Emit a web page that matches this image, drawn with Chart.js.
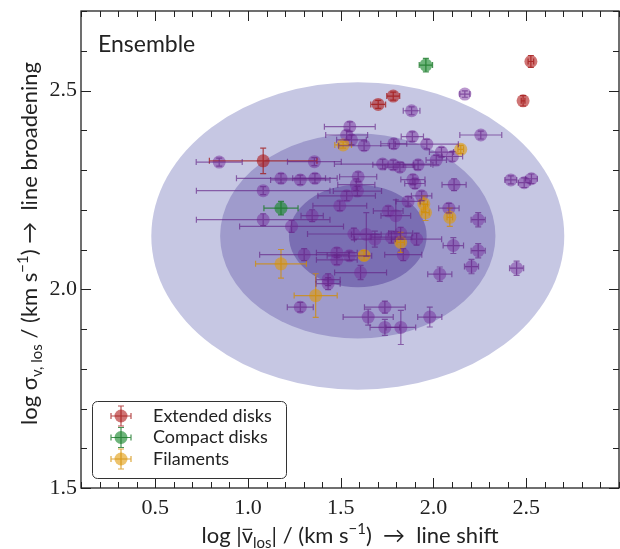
<!DOCTYPE html>
<html>
<head>
<meta charset="utf-8">
<script src="https://cdn.jsdelivr.net/npm/chart.js@4.4.1/dist/chart.umd.min.js"></script>
<style>
  html, body { margin: 0; padding: 0; background: #fff; }
  canvas { display: block; }
</style>
</head>
<body>
<canvas id="chart" width="620" height="549"></canvas>
<script>
// each entry: [log|v_los|, log sigma, xerr, yerr]
const ensemble = [
  [0.845, 2.320, 0.124, 0.010], [1.358, 2.321, 0.145, 0.010], [1.178, 2.279, 0.24, 0.012],
  [1.282, 2.275, 0.16, 0.012], [1.361, 2.279, 0.12, 0.012], [1.082, 2.248, 0.36, 0.010],
  [1.594, 2.283, 0.10, 0.012], [1.584, 2.263, 0.10, 0.015], [1.590, 2.247, 0.13, 0.012],
  [1.532, 2.235, 0.155, 0.012], [1.495, 2.210, 0.145, 0.012], [1.346, 2.185, 0.06, 0.015],
  [1.082, 2.175, 0.36, 0.015], [1.235, 2.158, 0.28, 0.015], [1.571, 2.139, 0.25, 0.015],
  [1.638, 2.138, 0.08, 0.055], [1.684, 2.126, 0.11, 0.02], [1.303, 2.087, 0.24, 0.015],
  [1.479, 2.092, 0.11, 0.012], [1.479, 2.074, 0.11, 0.012], [1.547, 2.084, 0.12, 0.012],
  [1.607, 2.042, 0.14, 0.018], [1.432, 2.024, 0.065, 0.015], [1.432, 2.014, 0.065, 0.015],
  [1.282, 1.955, 0.07, 0.012], [1.648, 1.930, 0.135, 0.02], [1.738, 1.955, 0.11, 0.015],
  [1.738, 1.904, 0.08, 0.02], [1.824, 1.904, 0.08, 0.043], [1.980, 1.930, 0.065, 0.025],
  [1.549, 2.409, 0.137, 0.012], [1.532, 2.388, 0.113, 0.012], [1.558, 2.376, 0.08, 0.012],
  [1.626, 2.361, 0.137, 0.012], [1.786, 2.366, 0.07, 0.012], [1.886, 2.384, 0.06, 0.012],
  [1.964, 2.365, 0.17, 0.012], [1.882, 2.449, 0.045, 0.010], [2.169, 2.491, 0.027, 0.008],
  [2.255, 2.388, 0.113, 0.010], [2.043, 2.345, 0.065, 0.012], [2.102, 2.334, 0.055, 0.012],
  [2.015, 2.325, 0.055, 0.012], [1.726, 2.315, 0.26, 0.012], [1.783, 2.313, 0.11, 0.012],
  [1.819, 2.307, 0.08, 0.012], [1.917, 2.313, 0.08, 0.012], [1.889, 2.276, 0.065, 0.012],
  [1.900, 2.266, 0.055, 0.012], [1.936, 2.235, 0.055, 0.012], [2.111, 2.263, 0.065, 0.015],
  [2.417, 2.275, 0.032, 0.010], [2.489, 2.268, 0.032, 0.012], [2.528, 2.278, 0.032, 0.012],
  [1.863, 2.221, 0.065, 0.012], [2.083, 2.204, 0.055, 0.012], [1.756, 2.197, 0.08, 0.012],
  [1.797, 2.185, 0.08, 0.04], [2.241, 2.175, 0.038, 0.018], [1.773, 2.131, 0.11, 0.015],
  [1.823, 2.141, 0.065, 0.015], [1.909, 2.126, 0.135, 0.015], [2.107, 2.110, 0.055, 0.02],
  [2.241, 2.097, 0.038, 0.018], [1.837, 2.087, 0.10, 0.015], [2.205, 2.057, 0.038, 0.018],
  [2.448, 2.053, 0.038, 0.018], [2.034, 2.038, 0.065, 0.018],
];
const extendedDisks = [
  [1.082, 2.323, 0.29, 0.032], [1.702, 2.465, 0.04, 0.010], [1.783, 2.486, 0.035, 0.010],
  [2.525, 2.573, 0.015, 0.015], [2.483, 2.474, 0.01, 0.013],
];
const compactDisks = [
  [1.959, 2.564, 0.036, 0.017], [1.178, 2.204, 0.092, 0.017],
];
const filaments = [
  [1.513, 2.363, 0.045, 0.008], [2.147, 2.352, 0.015, 0.010], [1.948, 2.215, 0.02, 0.02],
  [1.957, 2.193, 0.02, 0.02], [2.088, 2.181, 0.015, 0.023], [1.823, 2.118, 0.02, 0.025],
  [1.626, 2.085, 0.027, 0.012], [1.178, 2.064, 0.137, 0.036], [1.365, 1.984, 0.116, 0.055],
];

// ensemble distribution: centre and 1-sigma widths, drawn at 3, 2, 1 sigma
const ellipseCenter = [1.592, 2.134];
const ellipseSigma = [0.371, 0.129];
const ellipseLevels = [3, 2, 1];

const xTickLabels = [0.5, 1.0, 1.5, 2.0, 2.5];
const yTickLabels = [1.5, 2.0, 2.5];

const legendLabels = ['Extended disks', 'Compact disks', 'Filaments'];

const ELLIPSE_COLORS = ['#c6c7e3', '#9f9bcc', '#7a6eb3'];
const GROUPS = {
  ensemble: { fill: 'rgba(118,48,158,0.5)', bar: 'rgba(100,35,135,0.65)' },
  extended: { fill: 'rgba(175,25,25,0.6)', bar: 'rgba(160,20,20,0.75)' },
  compact: { fill: 'rgba(30,140,50,0.65)', bar: 'rgba(25,120,40,0.8)' },
  filaments: { fill: 'rgba(225,155,10,0.6)', bar: 'rgba(210,140,0,0.75)' },
};
const SANS = 'Lato, "Open Sans", sans-serif';
const SERIF = '"Liberation Serif", "DejaVu Serif", serif';

const makeSet = (rows, style, order) => ({
  data: rows.map((r) => ({ x: r[0], y: r[1] })),
  errors: rows.map((r) => [r[2], r[3]]),
  barColor: style.bar,
  backgroundColor: style.fill,
  borderWidth: 0,
  pointRadius: 6.5,
  order,
});

const hasLabel = (list, v) => list.some((t) => Math.abs(t - v) < 1e-6);

// filled sigma ellipses behind the points
const ellipsePlugin = {
  id: 'ellipses',
  beforeDatasetsDraw(chart) {
    const { ctx, chartArea: a, scales: { x, y } } = chart;
    const cx = x.getPixelForValue(ellipseCenter[0]);
    const cy = y.getPixelForValue(ellipseCenter[1]);
    ctx.save();
    ctx.beginPath();
    ctx.rect(a.left, a.top, a.right - a.left, a.bottom - a.top);
    ctx.clip();
    ellipseLevels.forEach((k, i) => {
      const rx = x.getPixelForValue(ellipseCenter[0] + k * ellipseSigma[0]) - cx;
      const ry = cy - y.getPixelForValue(ellipseCenter[1] + k * ellipseSigma[1]);
      ctx.fillStyle = ELLIPSE_COLORS[i];
      ctx.beginPath();
      ctx.ellipse(cx, cy, rx, ry, 0, 0, 2 * Math.PI);
      ctx.fill();
    });
    ctx.restore();
  },
};

const drawErrorCross = (ctx, px, x0, x1, py, y0, y1, color) => {
  const cap = 3;
  ctx.strokeStyle = color;
  ctx.lineWidth = 1.2;
  ctx.beginPath();
  ctx.moveTo(x0, py); ctx.lineTo(x1, py);
  ctx.moveTo(px, y0); ctx.lineTo(px, y1);
  ctx.moveTo(x0, py - cap); ctx.lineTo(x0, py + cap);
  ctx.moveTo(x1, py - cap); ctx.lineTo(x1, py + cap);
  ctx.moveTo(px - cap, y0); ctx.lineTo(px + cap, y0);
  ctx.moveTo(px - cap, y1); ctx.lineTo(px + cap, y1);
  ctx.stroke();
};

// error bars, drawn over the markers like matplotlib's errorbar
const errorBarPlugin = {
  id: 'errorBars',
  afterDatasetsDraw(chart) {
    const { ctx, scales: { x, y } } = chart;
    ctx.save();
    chart.data.datasets.forEach((ds) => {
      ds.data.forEach((p, i) => {
        const [xe, ye] = ds.errors[i];
        drawErrorCross(
          ctx,
          x.getPixelForValue(p.x), x.getPixelForValue(p.x - xe), x.getPixelForValue(p.x + xe),
          y.getPixelForValue(p.y), y.getPixelForValue(p.y - ye), y.getPixelForValue(p.y + ye),
          ds.barColor,
        );
      });
    });
    ctx.restore();
  },
};

// rich text helper for sub/superscripts and the overline on v
const drawRich = (ctx, parts, x, y, size) => {
  const fontFor = (k) => `${(k === 'sub' || k === 'sup') ? size * 0.68 : size}px ${SANS}`;
  const widths = parts.map(([t, k]) => { ctx.font = fontFor(k); return ctx.measureText(t).width; });
  let cx = x - widths.reduce((s, w) => s + w, 0) / 2;
  ctx.textAlign = 'left';
  ctx.textBaseline = 'alphabetic';
  parts.forEach(([t, k], i) => {
    ctx.font = fontFor(k);
    let dy = 0;
    if (k === 'sub') dy = size * 0.22;
    if (k === 'sup') dy = -size * 0.4;
    ctx.fillText(t, cx, y + dy);
    if (k === 'bar') {
      ctx.lineWidth = 1.2;
      ctx.beginPath();
      ctx.moveTo(cx + 1, y - size * 0.62);
      ctx.lineTo(cx + widths[i] - 1, y - size * 0.62);
      ctx.stroke();
    }
    cx += widths[i];
  });
};

const framePlugin = {
  id: 'frame',
  afterDraw(chart) {
    const { ctx, chartArea: a, scales: { x, y } } = chart;
    ctx.save();
    ctx.strokeStyle = '#222';
    ctx.fillStyle = '#222';

    // inward ticks on all four sides
    ctx.lineWidth = 1;
    ctx.beginPath();
    x.ticks.forEach((t) => {
      const px = Math.round(x.getPixelForValue(t.value)) + 0.5;
      const len = hasLabel(xTickLabels, t.value) ? 10 : 6;
      ctx.moveTo(px, a.bottom); ctx.lineTo(px, a.bottom - len);
      ctx.moveTo(px, a.top); ctx.lineTo(px, a.top + len);
    });
    y.ticks.forEach((t) => {
      const py = Math.round(y.getPixelForValue(t.value)) + 0.5;
      const len = hasLabel(yTickLabels, t.value) ? 10 : 6;
      ctx.moveTo(a.left, py); ctx.lineTo(a.left + len, py);
      ctx.moveTo(a.right, py); ctx.lineTo(a.right - len, py);
    });
    ctx.stroke();

    ctx.lineWidth = 1.3;
    ctx.strokeRect(a.left, a.top, a.right - a.left, a.bottom - a.top);

    // panel label
    ctx.font = `23px ${SANS}`;
    ctx.textAlign = 'left';
    ctx.textBaseline = 'alphabetic';
    ctx.fillText('Ensemble', a.left + 17, a.top + 41);

    // axis titles
    drawRich(ctx, [
      ['log |', ''], ['v', 'bar'], ['los', 'sub'], ['| / (km s', ''], ['\u22121', 'sup'],
      [')  \u2192  line shift', ''],
    ], (a.left + a.right) / 2, 543, 22);
    ctx.save();
    ctx.translate(37, (a.top + a.bottom) / 2 - 6);
    ctx.rotate(-Math.PI / 2);
    drawRich(ctx, [
      ['log \u03c3', ''], ['v, los', 'sub'], [' / (km s', ''], ['\u22121', 'sup'],
      [') \u2192  line broadening', ''],
    ], 0, 0, 22);
    ctx.restore();

    // legend
    const bx = a.left + 11; const by = 401; const bw = 194; const bh = 77;
    ctx.fillStyle = 'rgba(255,255,255,0.85)';
    ctx.strokeStyle = '#333';
    ctx.lineWidth = 1;
    ctx.beginPath();
    ctx.roundRect(bx + 0.5, by + 0.5, bw, bh, 5);
    ctx.fill();
    ctx.stroke();
    const styles = [GROUPS.extended, GROUPS.compact, GROUPS.filaments];
    legendLabels.forEach((label, i) => {
      const mx = bx + 29; const my = by + 15 + i * 21.5;
      ctx.fillStyle = styles[i].fill;
      ctx.beginPath();
      ctx.arc(mx, my, 6.5, 0, 2 * Math.PI);
      ctx.fill();
      drawErrorCross(ctx, mx, mx - 10, mx + 10, my, my - 10, my + 10, styles[i].bar);
      ctx.fillStyle = '#222';
      ctx.font = `18px ${SANS}`;
      ctx.textBaseline = 'middle';
      ctx.fillText(label, bx + 61, my);
    });
    ctx.restore();
  },
};

const tickCallback = (list) => (value) => {
  const v = Math.round(value * 10) / 10;
  return hasLabel(list, v) ? v.toFixed(1) : '';
};

new Chart(document.getElementById('chart'), {
  type: 'scatter',
  data: {
    datasets: [
      makeSet(extendedDisks, GROUPS.extended, 1),
      makeSet(compactDisks, GROUPS.compact, 1),
      makeSet(filaments, GROUPS.filaments, 1),
      makeSet(ensemble, GROUPS.ensemble, 2),
    ],
  },
  options: {
    responsive: false,
    animation: false,
    events: [],
    layout: { autoPadding: false, padding: { top: 11, right: 1, left: 0, bottom: 0 } },
    plugins: { legend: { display: false }, tooltip: { enabled: false } },
    scales: {
      x: {
        type: 'linear',
        min: 0.1,
        max: 3.0,
        // fixed axis band, and no extra room for edge labels
        afterFit: (s) => { s.height = 61; s.paddingLeft = 0; s.paddingRight = 0; },
        grid: { display: false, drawTicks: false },
        border: { display: false },
        ticks: {
          stepSize: 0.1, autoSkip: false, maxRotation: 0, padding: 7,
          color: '#222', font: { family: SERIF, size: 22 },
          callback: tickCallback(xTickLabels),
        },
      },
      y: {
        type: 'linear',
        min: 1.5,
        max: 2.7,
        afterFit: (s) => { s.width = 81; s.paddingTop = 0; s.paddingBottom = 0; },
        grid: { display: false, drawTicks: false },
        border: { display: false },
        ticks: {
          stepSize: 0.1, autoSkip: false, padding: 4,
          color: '#222', font: { family: SERIF, size: 22 },
          callback: tickCallback(yTickLabels),
        },
      },
    },
  },
  plugins: [ellipsePlugin, errorBarPlugin, framePlugin],
});
</script>
</body>
</html>
